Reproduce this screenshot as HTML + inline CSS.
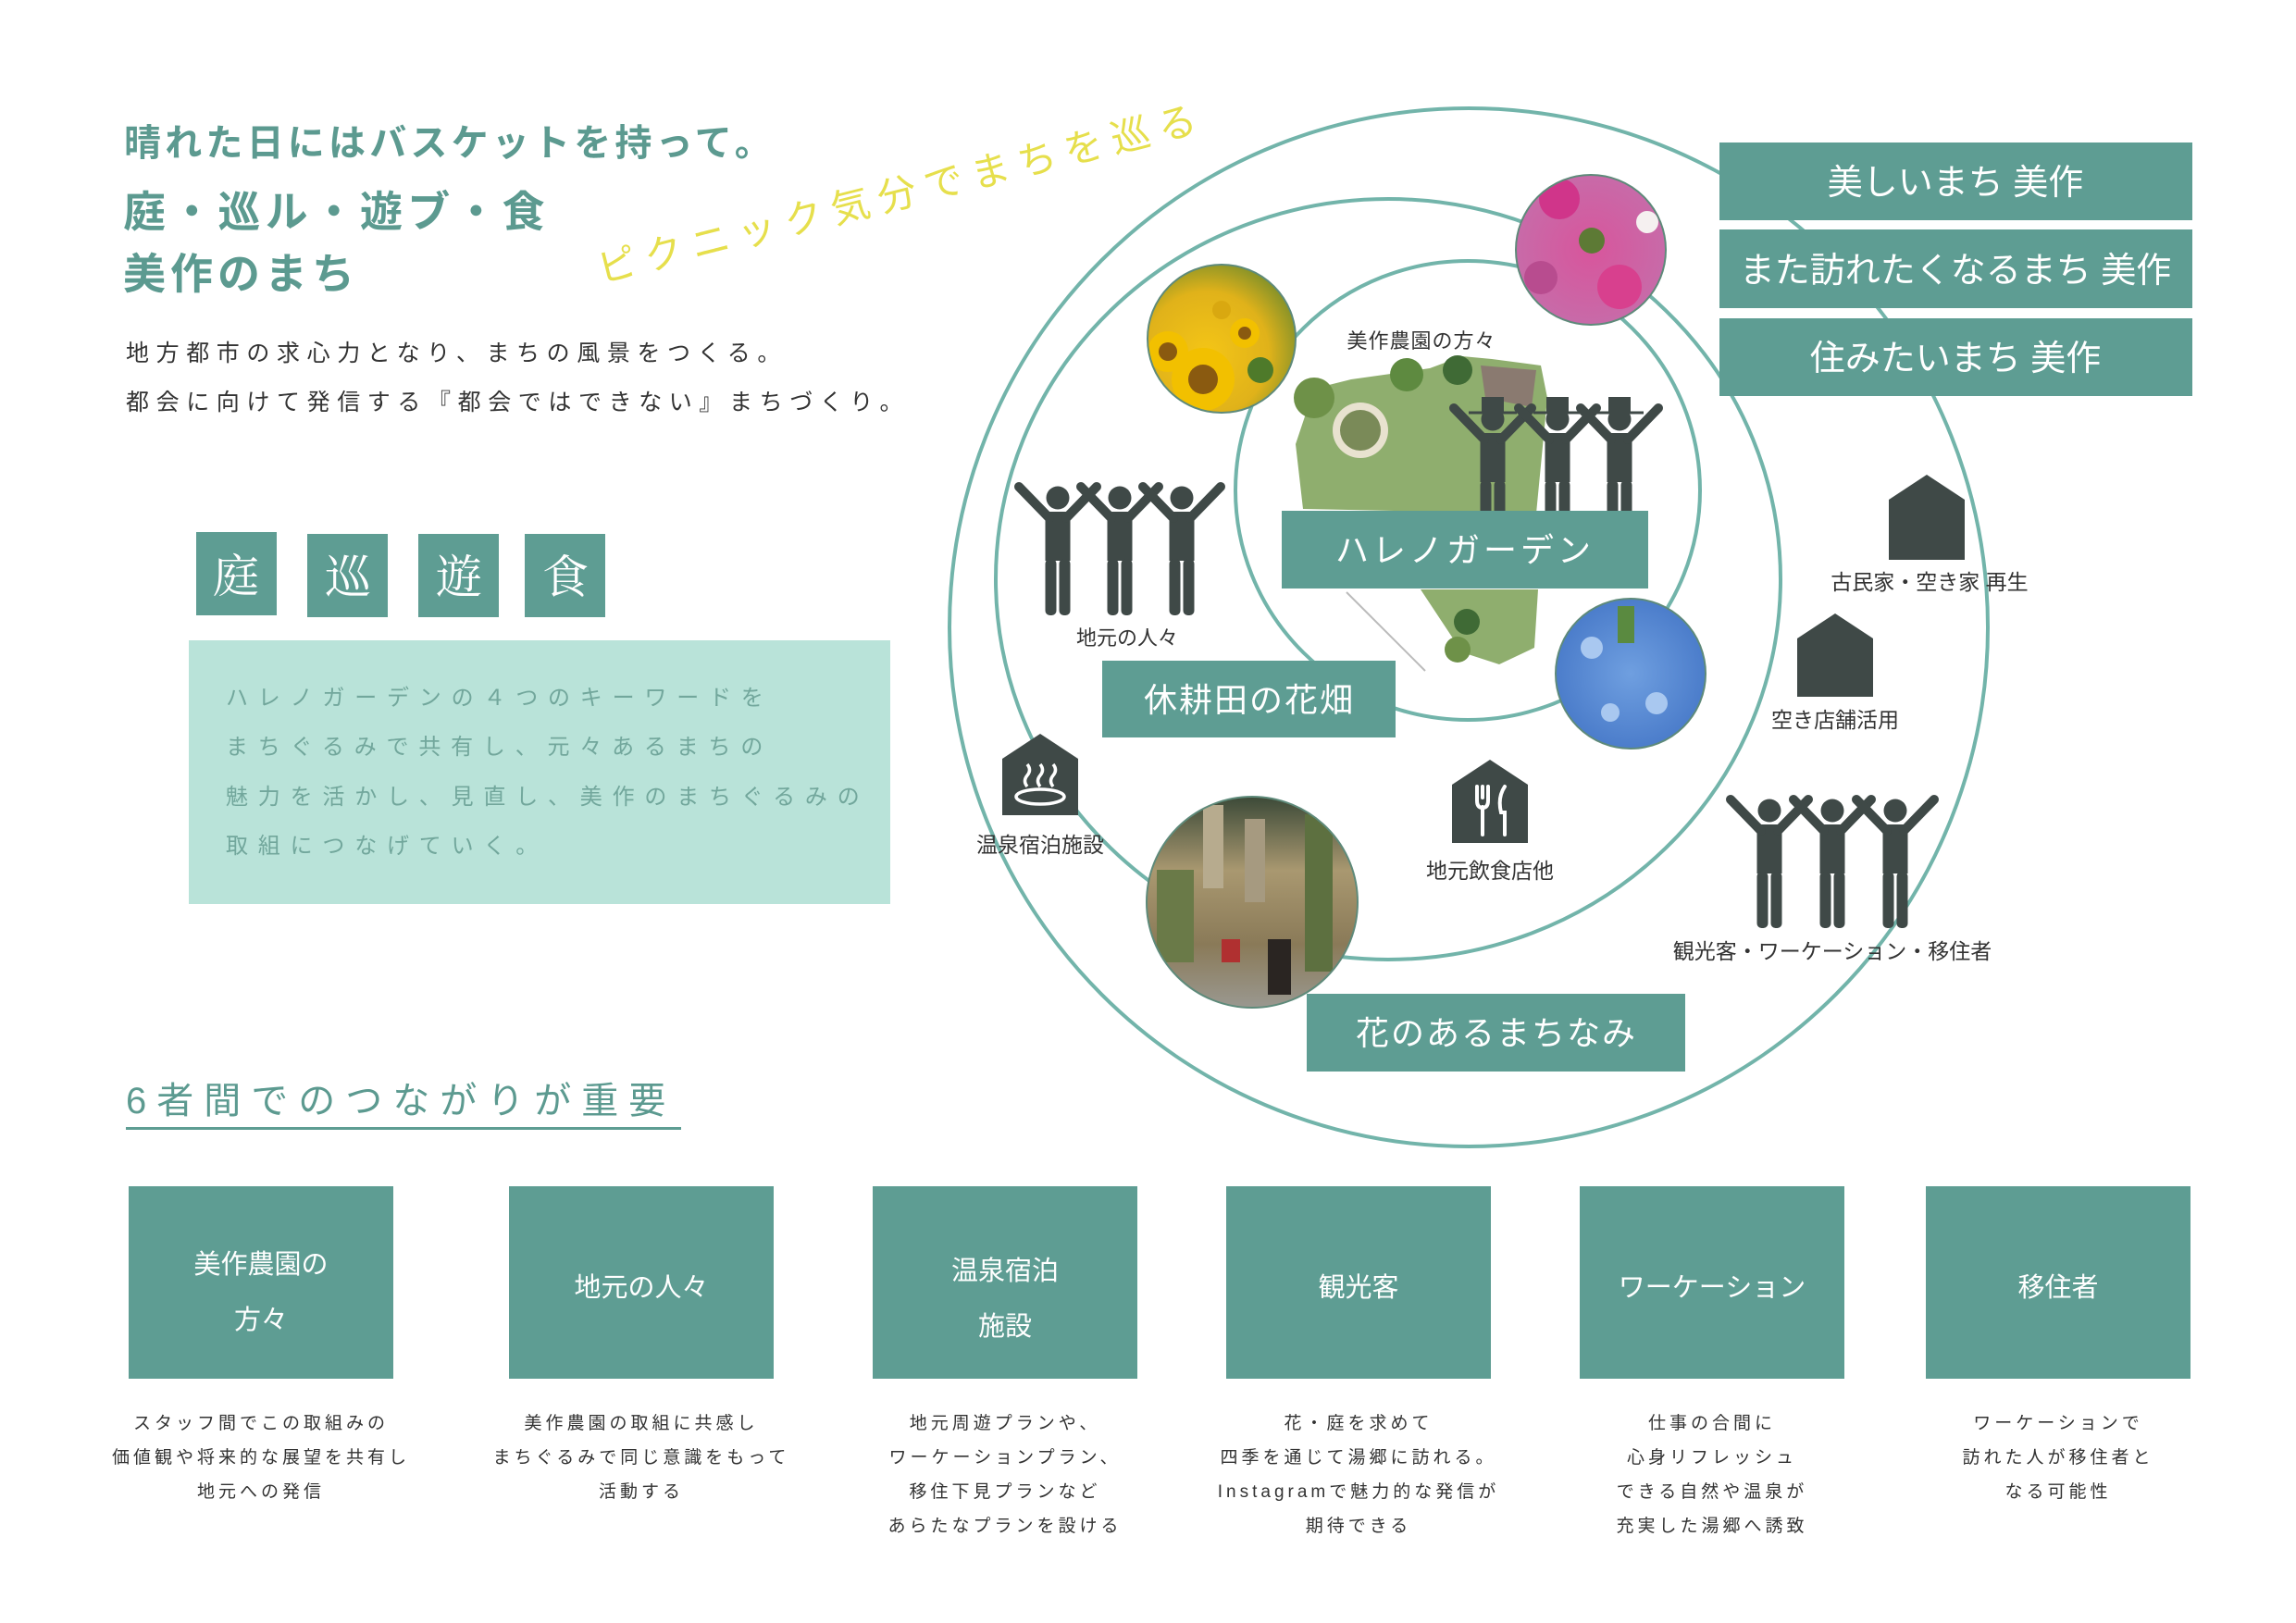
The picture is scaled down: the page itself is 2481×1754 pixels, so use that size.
<!DOCTYPE html>
<html><head><meta charset="utf-8">
<style>
html,body{margin:0;padding:0;background:#fff;}
body{width:2481px;height:1754px;overflow:hidden;position:relative;font-family:"Liberation Sans","Noto Sans CJK JP",sans-serif;}
svg{position:absolute;left:0;top:0;}
text{font-family:"Liberation Sans","Noto Sans CJK JP",sans-serif;}
</style></head><body>
<svg width="2481" height="1754" viewBox="0 0 2481 1754" xmlns="http://www.w3.org/2000/svg">
<defs>
  <g id="fig">
    <circle cx="0" cy="0" r="12.5" fill="#3f4947"/>
    <rect x="-13.5" y="15" width="27" height="53" fill="#3f4947"/>
    <rect x="-13.5" y="66" width="12" height="61" rx="5" fill="#3f4947"/>
    <rect x="1.5" y="66" width="12" height="61" rx="5" fill="#3f4947"/>
    <line x1="-9" y1="22" x2="-42" y2="-12" stroke="#3f4947" stroke-width="10" stroke-linecap="round"/>
    <line x1="9" y1="22" x2="42" y2="-12" stroke="#3f4947" stroke-width="10" stroke-linecap="round"/>
  </g>
  <g id="farmer">
    <use href="#fig"/>
    <rect x="-12" y="-24" width="24" height="16" fill="#3f4947"/>
    <line x1="-26" y1="-7" x2="26" y2="-7" stroke="#3f4947" stroke-width="3"/>
  </g>
  <radialGradient id="sun" cx="40%" cy="60%" r="70%">
    <stop offset="0" stop-color="#f4c516"/><stop offset="0.6" stop-color="#e0b21a"/><stop offset="1" stop-color="#6f8a2c"/>
  </radialGradient>
  <radialGradient id="cos" cx="50%" cy="50%" r="70%">
    <stop offset="0" stop-color="#d8559c"/><stop offset="0.7" stop-color="#c86aa8"/><stop offset="1" stop-color="#7b8a48"/>
  </radialGradient>
  <radialGradient id="nem" cx="50%" cy="50%" r="70%">
    <stop offset="0" stop-color="#6f9fe0"/><stop offset="1" stop-color="#3d6fc2"/>
  </radialGradient>
  <linearGradient id="street" x1="0" y1="0" x2="0" y2="1">
    <stop offset="0" stop-color="#3c4a38"/><stop offset="0.35" stop-color="#a99870"/><stop offset="0.7" stop-color="#8a7a58"/><stop offset="1" stop-color="#9a9890"/>
  </linearGradient>
  <clipPath id="cSun"><circle cx="1320" cy="366" r="80"/></clipPath>
  <clipPath id="cCos"><circle cx="1719" cy="270" r="81"/></clipPath>
  <clipPath id="cNem"><circle cx="1762" cy="728" r="81"/></clipPath>
  <clipPath id="cStr"><circle cx="1353" cy="975" r="114"/></clipPath>
</defs>

<text x="134" y="168" font-size="40" font-weight="bold" fill="#5c9a90" letter-spacing="4.2">晴れた日にはバスケットを持って。</text>
<text x="133" y="245" font-size="46" font-weight="bold" fill="#5c9a90" letter-spacing="5.2">庭・巡ル・遊ブ・食</text>
<text x="133" y="312" font-size="46" font-weight="bold" fill="#5c9a90" letter-spacing="5">美作のまち</text>
<text x="136" y="390" font-size="25" fill="#333" letter-spacing="7.6">地方都市の求心力となり、まちの風景をつくる。</text>
<text x="136" y="443" font-size="25" fill="#333" letter-spacing="7.6">都会に向けて発信する『都会ではできない』まちづくり。</text>
<text x="0" y="0" font-size="42" fill="#e6df4c" letter-spacing="10" transform="translate(650,306) rotate(-14.2)">ピクニック気分でまちを巡る</text>

<g fill="#5e9d93">
  <rect x="212" y="575" width="87" height="90"/>
  <rect x="332" y="577" width="87" height="90"/>
  <rect x="452" y="577" width="87" height="90"/>
  <rect x="567" y="577" width="87" height="90"/>
</g>
<g font-size="50" fill="#fff" text-anchor="middle">
  <text x="255" y="640" style="font-family:'Liberation Serif','Noto Serif CJK SC',serif">庭</text>
  <text x="376" y="641" style="font-family:'Liberation Serif','Noto Serif CJK SC',serif">巡</text>
  <text x="496" y="641" style="font-family:'Liberation Serif','Noto Serif CJK SC',serif">遊</text>
  <text x="611" y="641" style="font-family:'Liberation Serif','Noto Serif CJK SC',serif">食</text>
</g>
<rect x="204" y="692" width="758" height="285" fill="#b9e3d9"/>
<g font-size="24" fill="#72a79c" letter-spacing="10.8">
  <text x="244" y="762">ハレノガーデンの４つのキーワードを</text>
  <text x="244" y="815">まちぐるみで共有し、元々あるまちの</text>
  <text x="244" y="869">魅力を活かし、見直し、美作のまちぐるみの</text>
  <text x="244" y="922">取組につなげていく。</text>
</g>

<g fill="none" stroke="#72b4aa" stroke-width="4">
  <circle cx="1587" cy="678" r="561"/>
  <ellipse cx="1500" cy="626" rx="424" ry="411"/>
  <ellipse cx="1586" cy="530" rx="251" ry="248"/>
</g>

<g>
  <path d="M1362,395 L1380,372" stroke="#bbb" stroke-width="2" fill="none"/>
  <path d="M1408,550 L1400,480 L1420,420 L1460,410 L1545,398 L1580,385 L1612,388 L1665,395 L1672,430 L1660,555 Z" fill="#8fae6e"/>
  <circle cx="1470" cy="465" r="30" fill="#e8e2cf"/>
  <circle cx="1470" cy="465" r="22" fill="#7a8a58"/>
  <path d="M1600,395 L1660,400 L1655,440 L1605,430 Z" fill="#8a7a70"/>
  <circle cx="1420" cy="430" r="22" fill="#6e9148"/>
  <circle cx="1520" cy="405" r="18" fill="#5e8a40"/>
  <circle cx="1575" cy="400" r="16" fill="#3f6a35"/>
  <path d="M1535,637 L1662,637 L1658,700 L1620,718 L1580,705 Z" fill="#8fae6e"/>
  <circle cx="1585" cy="672" r="14" fill="#3f6a35"/>
  <circle cx="1575" cy="702" r="14" fill="#6e9148"/>
  <path d="M1455,640 L1540,725" stroke="#bbb" stroke-width="2" fill="none"/>
</g>
<text x="1536" y="376" font-size="22" fill="#333" text-anchor="middle" letter-spacing="1">美作農園の方々</text>

<use href="#farmer" transform="translate(1613,453)"/>
<use href="#farmer" transform="translate(1683,453)"/>
<use href="#farmer" transform="translate(1750,453)"/>

<g clip-path="url(#cSun)">
  <rect x="1240" y="286" width="160" height="160" fill="url(#sun)"/>
  <circle cx="1300" cy="410" r="34" fill="#f2c000"/><circle cx="1300" cy="410" r="16" fill="#8a5a10"/>
  <circle cx="1262" cy="380" r="22" fill="#f2c000"/><circle cx="1262" cy="380" r="10" fill="#8a5a10"/>
  <circle cx="1345" cy="360" r="16" fill="#f2c000"/><circle cx="1345" cy="360" r="7" fill="#8a5a10"/>
  <circle cx="1362" cy="400" r="14" fill="#4e7a2a"/>
  <circle cx="1320" cy="335" r="10" fill="#d9a810"/>
</g>
<circle cx="1320" cy="366" r="80" fill="none" stroke="#5e8a7a" stroke-width="2"/>
<g clip-path="url(#cCos)">
  <rect x="1638" y="189" width="162" height="162" fill="url(#cos)"/>
  <circle cx="1685" cy="215" r="22" fill="#d0358a"/>
  <circle cx="1750" cy="310" r="24" fill="#d8408e"/>
  <circle cx="1780" cy="240" r="12" fill="#f5f0f0"/>
  <circle cx="1665" cy="300" r="18" fill="#b84c8f"/>
  <circle cx="1720" cy="260" r="14" fill="#5d7a35"/>
</g>
<circle cx="1719" cy="270" r="81" fill="none" stroke="#5e8a7a" stroke-width="2"/>
<g clip-path="url(#cNem)">
  <rect x="1681" y="647" width="162" height="162" fill="url(#nem)"/>
  <rect x="1748" y="655" width="18" height="40" fill="#5a8a40"/>
  <circle cx="1720" cy="700" r="12" fill="#a9c8f0"/>
  <circle cx="1790" cy="760" r="12" fill="#a9c8f0"/>
  <circle cx="1740" cy="770" r="10" fill="#a9c8f0"/>
</g>
<circle cx="1762" cy="728" r="81" fill="none" stroke="#5e8a7a" stroke-width="2"/>
<g clip-path="url(#cStr)">
  <rect x="1239" y="861" width="228" height="228" fill="url(#street)"/>
  <rect x="1300" y="870" width="22" height="90" fill="#b7ab8e"/>
  <rect x="1345" y="885" width="22" height="90" fill="#a69a80"/>
  <rect x="1410" y="880" width="30" height="170" fill="#5d7040"/>
  <rect x="1370" y="1015" width="25" height="60" fill="#2a2522"/>
  <rect x="1320" y="1015" width="20" height="25" fill="#b03030"/>
  <rect x="1250" y="940" width="40" height="100" fill="#6a7a48"/>
</g>
<circle cx="1353" cy="975" r="114" fill="none" stroke="#5e8a7a" stroke-width="2"/>

<use href="#fig" transform="translate(1143,538)"/>
<use href="#fig" transform="translate(1210,538)"/>
<use href="#fig" transform="translate(1277,538)"/>
<text x="1218" y="697" font-size="22" fill="#333" text-anchor="middle">地元の人々</text>

<use href="#fig" transform="translate(1912,876)"/>
<use href="#fig" transform="translate(1980,876)"/>
<use href="#fig" transform="translate(2048,876)"/>
<text x="1980" y="1036" font-size="23" fill="#333" text-anchor="middle">観光客・ワーケーション・移住者</text>

<g fill="#3f4947">
  <path d="M1083,820 L1124,793 L1165,820 L1165,881 L1083,881 Z"/>
  <path d="M1569,848 L1610,821 L1651,848 L1651,911 L1569,911 Z"/>
  <path d="M2041,540 L2082,513 L2123,540 L2123,605 L2041,605 Z"/>
  <path d="M1942,690 L1983,663 L2024,690 L2024,753 L1942,753 Z"/>
</g>
<g stroke="#fff" fill="none" stroke-width="3.5">
  <ellipse cx="1124" cy="861" rx="26" ry="8"/>
  <path d="M1110,850 q-5,-6 0,-12 q5,-6 0,-12"/>
  <path d="M1124,850 q-5,-6 0,-12 q5,-6 0,-12"/>
  <path d="M1138,850 q-5,-6 0,-12 q5,-6 0,-12"/>
</g>
<g stroke="#fff" fill="none" stroke-width="4" stroke-linecap="round">
  <path d="M1596,850 v15 q0,8 6,8 q6,0 6,-8 v-15"/>
  <line x1="1602" y1="850" x2="1602" y2="862"/>
  <line x1="1602" y1="872" x2="1602" y2="902"/>
  <path d="M1626,850 q-8,12 -4,28 l4,0 v24"/>
</g>
<text x="1124" y="921" font-size="23" fill="#333" text-anchor="middle">温泉宿泊施設</text>
<text x="1610" y="949" font-size="23" fill="#333" text-anchor="middle">地元飲食店他</text>
<text x="2085" y="637" font-size="23" fill="#333" text-anchor="middle">古民家・空き家 再生</text>
<text x="1983" y="786" font-size="23" fill="#333" text-anchor="middle">空き店舗活用</text>

<g fill="#5e9d93">
  <rect x="1385" y="552" width="396" height="84"/>
  <rect x="1191" y="714" width="317" height="83"/>
  <rect x="1412" y="1074" width="409" height="84"/>
  <rect x="1858" y="154" width="511" height="84"/>
  <rect x="1858" y="248" width="511" height="85"/>
  <rect x="1858" y="344" width="511" height="84"/>
</g>
<g fill="#fff" text-anchor="middle">
  <text x="1583" y="607" font-size="36" letter-spacing="4">ハレノガーデン</text>
  <text x="1350" y="769" font-size="36" letter-spacing="2">休耕田の花畑</text>
  <text x="1617" y="1129" font-size="36" letter-spacing="2">花のあるまちなみ</text>
  <text x="2113" y="210" font-size="38">美しいまち 美作</text>
  <text x="2113" y="305" font-size="38">また訪れたくなるまち 美作</text>
  <text x="2113" y="400" font-size="38">住みたいまち 美作</text>
</g>

<text x="136" y="1203" font-size="40" fill="#5c9a90" letter-spacing="11">6者間でのつながりが重要</text>
<rect x="136" y="1218" width="600" height="3" fill="#5e9d93"/>
<g fill="#5e9d93">
  <rect x="139" y="1282" width="286" height="208"/>
  <rect x="550" y="1282" width="286" height="208"/>
  <rect x="943" y="1282" width="286" height="208"/>
  <rect x="1325" y="1282" width="286" height="208"/>
  <rect x="1707" y="1282" width="286" height="208"/>
  <rect x="2081" y="1282" width="286" height="208"/>
</g>
<g fill="#fff" text-anchor="middle" font-size="29">
  <text x="282" y="1376">美作農園の</text>
  <text x="282" y="1436">方々</text>
  <text x="693" y="1401">地元の人々</text>
  <text x="1086" y="1383">温泉宿泊</text>
  <text x="1086" y="1443">施設</text>
  <text x="1468" y="1401">観光客</text>
  <text x="1850" y="1401">ワーケーション</text>
  <text x="2224" y="1401">移住者</text>
</g>
<g fill="#333" text-anchor="middle" font-size="19" letter-spacing="4">
  <text x="282" y="1544">スタッフ間でこの取組みの</text>
  <text x="282" y="1581">価値観や将来的な展望を共有し</text>
  <text x="282" y="1618">地元への発信</text>
  <text x="693" y="1544">美作農園の取組に共感し</text>
  <text x="693" y="1581">まちぐるみで同じ意識をもって</text>
  <text x="693" y="1618">活動する</text>
  <text x="1086" y="1544">地元周遊プランや、</text>
  <text x="1086" y="1581">ワーケーションプラン、</text>
  <text x="1086" y="1618">移住下見プランなど</text>
  <text x="1086" y="1655">あらたなプランを設ける</text>
  <text x="1468" y="1544">花・庭を求めて</text>
  <text x="1468" y="1581">四季を通じて湯郷に訪れる。</text>
  <text x="1468" y="1618">Instagramで魅力的な発信が</text>
  <text x="1468" y="1655">期待できる</text>
  <text x="1850" y="1544">仕事の合間に</text>
  <text x="1850" y="1581">心身リフレッシュ</text>
  <text x="1850" y="1618">できる自然や温泉が</text>
  <text x="1850" y="1655">充実した湯郷へ誘致</text>
  <text x="2224" y="1544">ワーケーションで</text>
  <text x="2224" y="1581">訪れた人が移住者と</text>
  <text x="2224" y="1618">なる可能性</text>
</g>
</svg>
</body></html>
